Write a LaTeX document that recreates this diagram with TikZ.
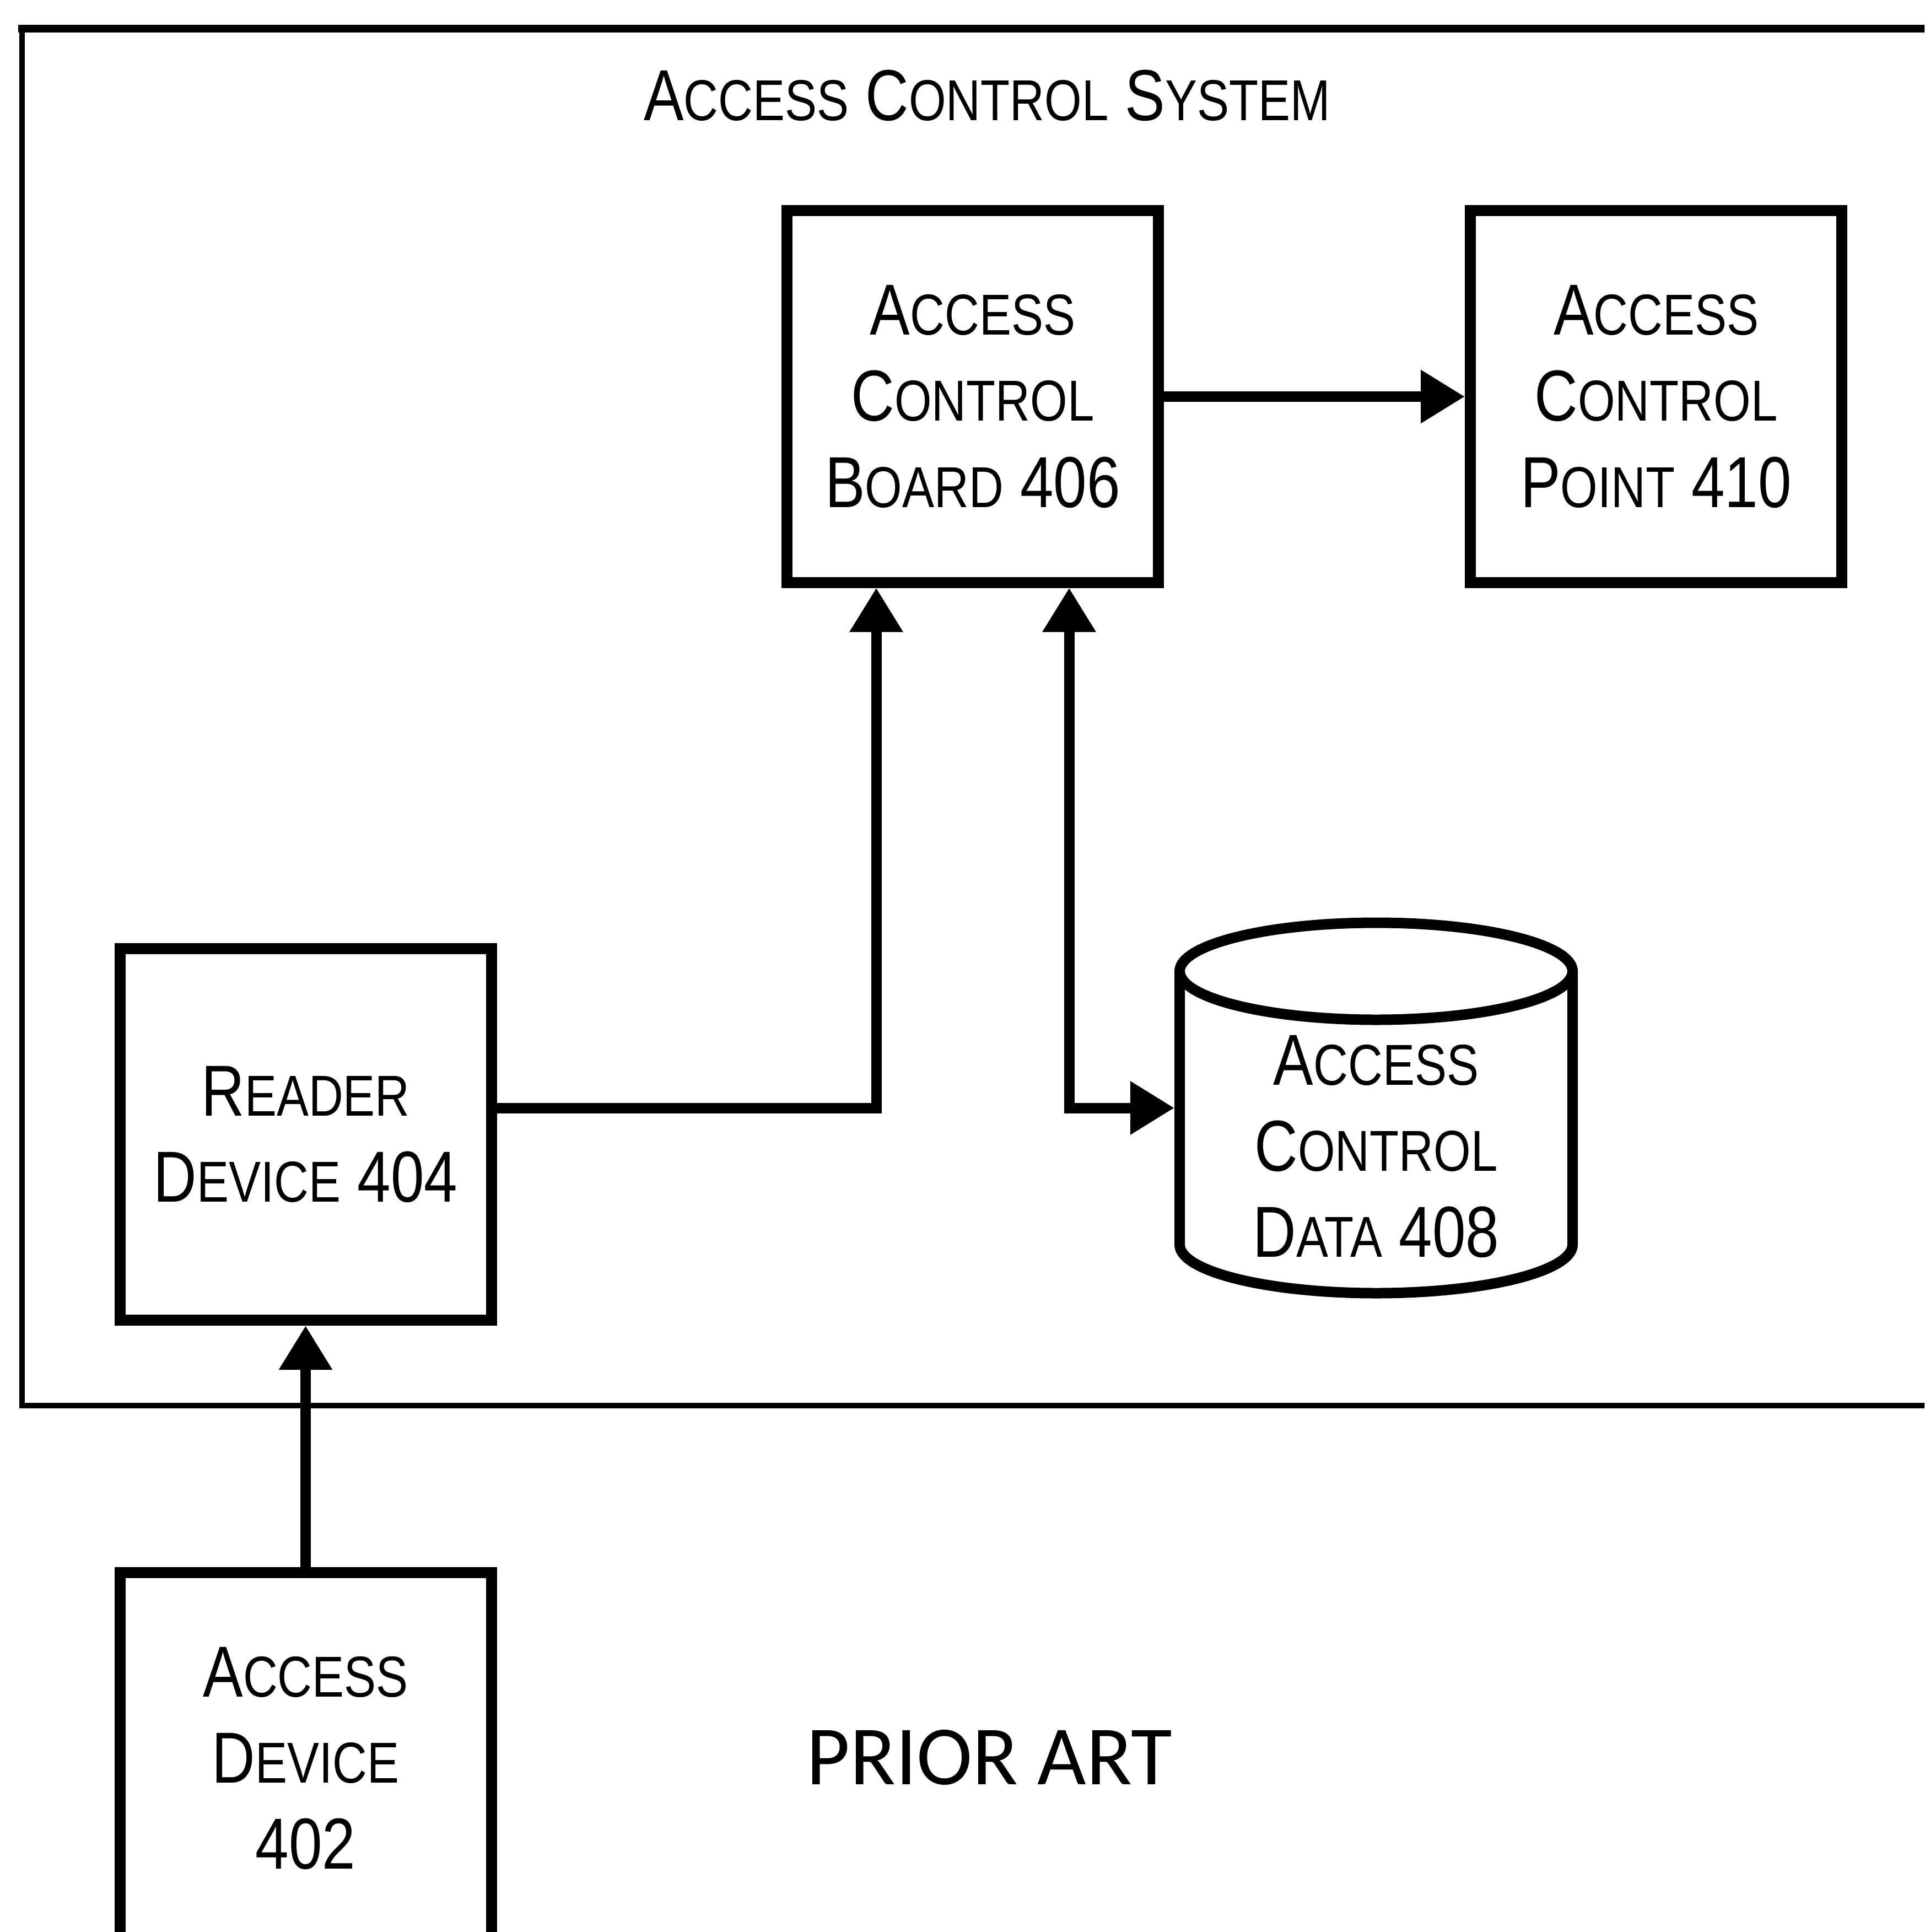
\documentclass[tikz,border=0pt]{standalone}
\usepackage{fontspec}
\setmainfont{Liberation Sans}[FakeStretch=0.83]
\newfontfamily\priorfont{Carlito}
\usetikzlibrary{arrows.meta}
\newcommand{\smc}[1]{{\fontsize{29.8}{44.4}\selectfont #1}}

\begin{document}
\begin{tikzpicture}[
  bigtip/.tip={Triangle[length=0.80cm,width=0.92cm]},
  blockbox/.style={draw, line width=0.20cm, minimum width=6.74cm, minimum height=6.74cm,
    align=center, inner sep=0pt, font=\fontsize{37.3}{44.4}\selectfont},
  txtnode/.style={align=center, inner sep=0pt, font=\fontsize{37.3}{44.4}\selectfont},
  conn/.style={line width=0.19cm, -bigtip},
  twoway/.style={line width=0.19cm, bigtip-bigtip}
]
  \useasboundingbox (0,0) rectangle (34.92,-35.05);
  \clip (0,0) rectangle (34.92,-35.05);
  % System frame (open to the right)
  \draw[line width=0.10cm] (35.3,-25.50) -- (0.40,-25.50) -- (0.40,-0.52);
  \draw[line width=0.14cm] (0.33,-0.52) -- (35.3,-0.52);
  \node[txtnode, anchor=base] (title) at (17.91,-2.19) {A\smc{CCESS} C\smc{ONTROL} S\smc{YSTEM}};
  % Boxes
  \node[blockbox] (board) at (17.65,-7.195) {A\smc{CCESS}\\C\smc{ONTROL}\\B\smc{OARD} 406};
  \node[blockbox] (point) at (30.05,-7.195) {A\smc{CCESS}\\C\smc{ONTROL}\\P\smc{OINT} 410};
  \node[blockbox] (reader) at (5.545,-20.58) {R\smc{EADER}\\D\smc{EVICE} 404};
  \node[blockbox] (device) at (5.545,-31.90) {A\smc{CCESS}\\D\smc{EVICE}\\402};
  % Data store (cylinder)
  \draw[line width=0.19cm] (24.97,-17.62) ellipse [x radius=3.565, y radius=0.88];
  \draw[line width=0.19cm] (21.405,-17.62) -- (21.405,-22.58)
    arc[start angle=180, end angle=360, x radius=3.565, y radius=0.88] -- (28.535,-17.62);
  \node[txtnode, minimum width=7.13cm, minimum height=4cm, outer sep=0.095cm] (data) at (24.97,-20.80)
    {A\smc{CCESS}\\C\smc{ONTROL}\\D\smc{ATA} 408};
  % Connectors
  \coordinate (tap) at ([yshift=0.48cm]reader.east);
  \draw[conn] (board.east) -- (point.west);
  \draw[conn] (tap) -| ([xshift=-1.75cm]board.south);
  \draw[twoway] ([xshift=1.75cm]board.south) |- (data.west |- tap);
  \draw[conn] (device.north) -- (reader.south);
  % Footer
  \node[font=\priorfont\fontsize{43.5}{52}\selectfont, anchor=base] (prior) at (17.95,-32.37) {PRIOR ART};
\end{tikzpicture}
\end{document}
